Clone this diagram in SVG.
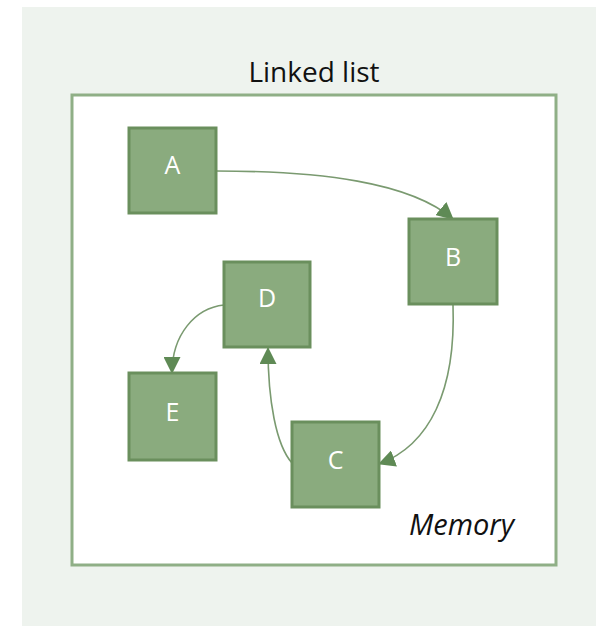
<svg xmlns="http://www.w3.org/2000/svg" width="596" height="626" viewBox="0 0 596 626">
<style>
.node rect{fill:#8aab7e;stroke:#6a8f5d;stroke-width:3}
.node text{fill:#ffffff;font-family:"Open Sans","Noto Sans",sans-serif;font-size:25px;text-anchor:middle}
.edge{fill:none;stroke:#7a9a70;stroke-width:1.6}
.title{font-family:"Open Sans","Noto Sans",sans-serif;font-size:28px;fill:#111;text-anchor:middle}
.mem{font-family:"Open Sans","Noto Sans",sans-serif;font-size:29px;font-style:italic;fill:#111}
</style>
<defs>
<marker id="arr" markerUnits="userSpaceOnUse" markerWidth="17" markerHeight="17" viewBox="0 0 17 17" refX="16" refY="8.5" orient="auto">
<path d="M0,0 L17,8.5 L0,17 Z" fill="#5f8a55"/>
</marker>
</defs>
<rect x="0" y="0" width="596" height="626" fill="#ffffff"/>
<rect x="22" y="7" width="574" height="619" fill="#eef3ee"/>
<text class="title" x="314" y="82">Linked list</text>
<rect x="72" y="95" width="484" height="470" fill="#ffffff" stroke="#8faf86" stroke-width="3"/>
<g id="connectors">
<path class="edge" d="M216,171 C320,171 410,182 453,219" marker-end="url(#arr)"/>
<path class="edge" d="M453,305 C456,390 430,445 379,464" marker-end="url(#arr)"/>
<path class="edge" d="M292,463 C276,445 268,400 268,348" marker-end="url(#arr)"/>
<path class="edge" d="M224,305 C195,308 172,335 172,373" marker-end="url(#arr)"/>
</g>
<g id="A" class="node"><rect x="129" y="128" width="87" height="85"/><text x="172.5" y="174">A</text></g>
<g id="B" class="node"><rect x="409" y="219" width="88" height="85"/><text x="453" y="266">B</text></g>
<g id="D" class="node"><rect x="224" y="262" width="86" height="85"/><text x="267" y="307">D</text></g>
<g id="E" class="node"><rect x="129" y="373" width="87" height="87"/><text x="172.5" y="421">E</text></g>
<g id="C" class="node"><rect x="292" y="422" width="87" height="85"/><text x="335.5" y="469">C</text></g>
<text class="mem" x="409" y="535">Memory</text>
</svg>
